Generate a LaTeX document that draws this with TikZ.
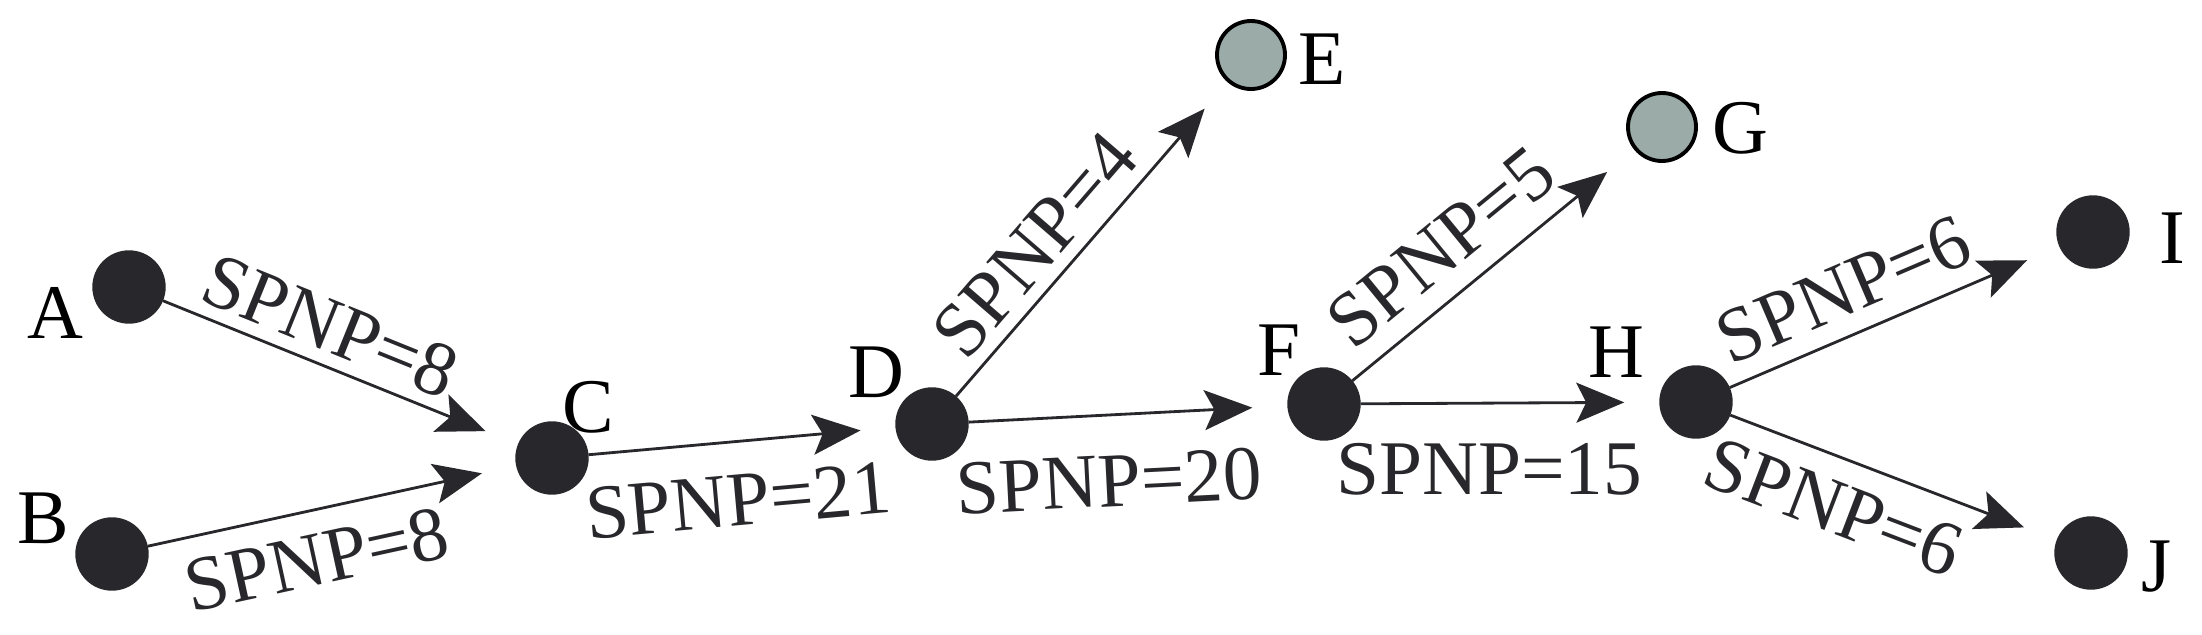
\documentclass[tikz,border=0pt]{standalone}
\usepackage{fontspec}
\setmainfont{Liberation Serif}
\usetikzlibrary{arrows.meta}
\definecolor{dotgrey}{RGB}{155,171,168}
\definecolor{dotblack}{RGB}{40,40,44}

\begin{document}
\begin{tikzpicture}[
    every node/.style={font=\fontsize{22}{26}\selectfont},
    blk/.style={circle,draw=dotblack,fill=dotblack,minimum size=0.72cm,inner sep=0pt},
    gry/.style={circle,draw=black,fill=dotgrey,line width=1.1pt,minimum size=0.68cm,inner sep=0pt},
    flow/.style={line width=0.8pt,color=dotblack,-{Stealth[length=0.48cm,width=0.40cm,inset=0.1cm]},shorten >=0.35cm}]
  \useasboundingbox (0,0) rectangle (22.02,6.34);

  % points
  \draw (1.29,3.47) node[blk] (A) {};
  \draw (1.12,0.80) node[blk] (B) {};
  \draw (5.52,1.76) node[blk] (C) {};
  \draw (9.32,2.10) node[blk] (D) {};
  \draw (12.51,5.79) node[gry] (E) {};
  \draw (13.24,2.30) node[blk] (F) {};
  \draw (16.62,5.07) node[gry] (G) {};
  \draw (16.96,2.32) node[blk] (H) {};
  \draw (20.93,4.02) node[blk] (I) {};
  \draw (20.91,0.81) node[blk] (J) {};

  % letters
  \draw (0.55,3.21) node (lA) {A};
  \draw (0.43,1.16) node (lB) {B};
  \draw (5.88,2.27) node (lC) {C};
  \draw (8.76,2.62) node (lD) {D};
  \draw (13.22,5.75) node (lE) {E};
  \draw (12.79,2.84) node (lF) {F};
  \draw (17.40,5.06) node (lG) {G};
  \draw (16.16,2.82) node (lH) {H};
  \draw (21.72,3.96) node (lI) {I};
  \draw (21.57,0.67) node (lJ) {J};

  \path[flow] (A) edge node[pos=0.43,sloped,above] {SPNP=8} (C);
  \path[flow] (B) edge node[pos=0.43,sloped,below=0.1cm] {SPNP=8} (C);
  \path[flow] (C) edge node[pos=0.47,sloped,below=0.2cm] {SPNP=21} (D);
  \path[flow] (D) edge node[pos=0.4,sloped,above] {SPNP=4} (E);
  \path[flow] (D) edge node[pos=0.43,sloped,below=0.27cm] {SPNP=20} (F);
  \path[flow] (F) edge node[pos=0.42,sloped,above=0.08cm] {SPNP=5} (G);
  \path[flow] (F) edge node[pos=0.43,below=0.27cm] {SPNP=15} (H);
  \path[flow] (H) edge node[pos=0.4,sloped,above=0.06cm] {SPNP=6} (I);
  \path[flow] (H) edge node[pos=0.37,sloped,below=0.1cm] {SPNP=6} (J);
\end{tikzpicture}
\end{document}
